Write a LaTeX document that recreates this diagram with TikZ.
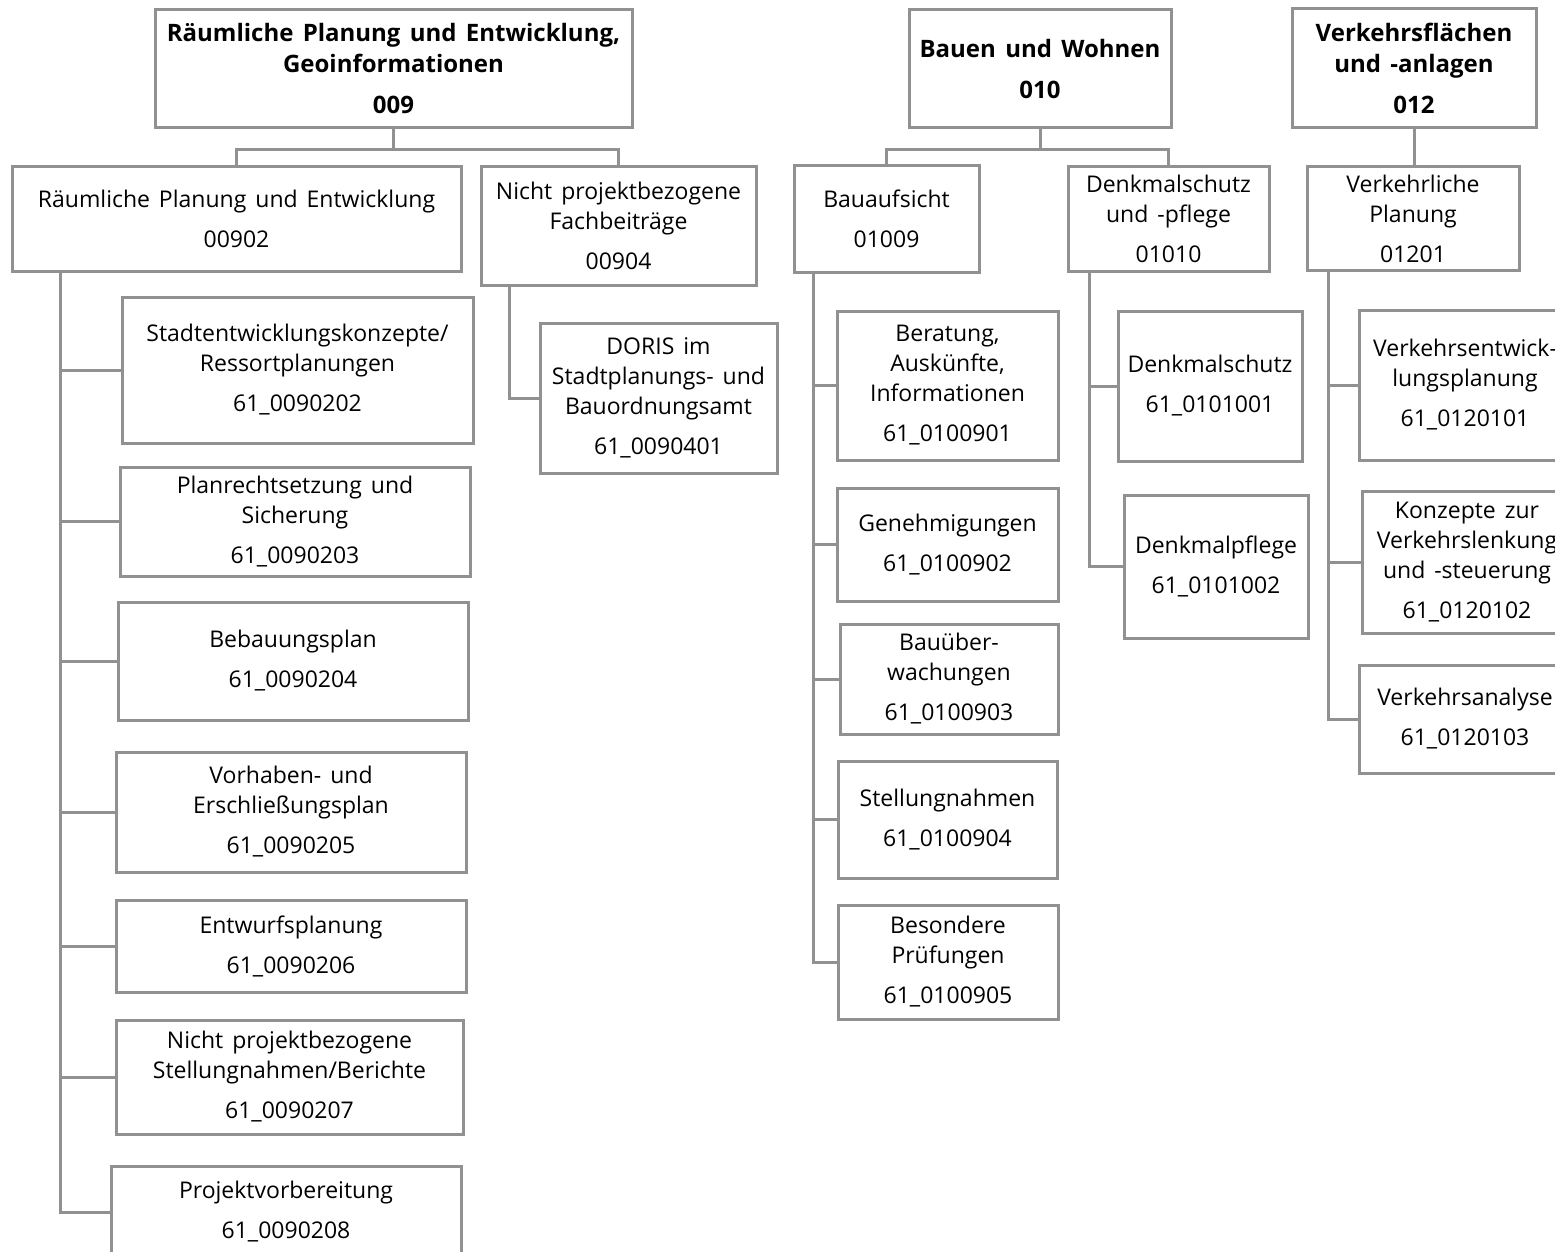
\documentclass[tikz,border=0pt]{standalone}
\usepackage{fontspec}
\setmainfont{Open Sans}[WordSpace=1.5]
\usepackage{xcolor}
\usetikzlibrary{positioning}
\definecolor{framegray}{RGB}{145,145,145}
\newcommand{\codegap}{\\[10pt]}

\begin{document}
\begin{tikzpicture}[x=1pt, y=-1pt,
  box/.style={draw=framegray, line width=3pt, align=center, inner sep=0pt,
              font=\fontsize{23}{30}\selectfont},
  head/.style={box, font=\fontsize{24}{31}\selectfont\bfseries},
  link/.style={draw=framegray, line width=3pt}]
\useasboundingbox (0,0) rectangle (1555,1252);
\clip (0,0) rectangle (1555,1252);
% top level
\node[head, minimum width=477, minimum height=118] (k009) at (393.5,69) {Räumliche Planung und Entwicklung,\\Geoinformationen\codegap 009};
\node[head, minimum width=262, minimum height=118] (k010) at (1040,69) {Bauen und Wohnen\codegap 010};
\node[head, minimum width=244, minimum height=119] (k012) at (1414,68.5) {Verkehrsflächen\\und -anlagen\codegap 012};
% second level
\node[box, minimum width=449, minimum height=104] (b00902) at (236.5,219) {Räumliche Planung und Entwicklung\codegap 00902};
\node[box, minimum width=275, minimum height=118] (b00904) at (618.5,226) {Nicht projektbezogene\\Fachbeiträge\codegap 00904};
\node[box, minimum width=185, minimum height=106] (b01009) at (886.5,219) {Bauaufsicht\codegap 01009};
\node[box, minimum width=201, minimum height=104] (b01010) at (1168.5,219) {Denkmalschutz\\und -pflege\codegap 01010};
\node[box, minimum width=212, minimum height=103] (b01201) at (1413,218.5) {Verkehrliche\\Planung\codegap 01201};
% products 00902
\node[box, minimum width=351, minimum height=146] (c0090202) at (297.5,370) {Stadtentwicklungskonzepte/\\Ressortplanungen\codegap 61\_0090202};
\node[box, minimum width=350, minimum height=109] (c0090203) at (295,521.5) {Planrechtsetzung und\\Sicherung\codegap 61\_0090203};
\node[box, minimum width=350, minimum height=118] (c0090204) at (293,661) {Bebauungsplan\codegap 61\_0090204};
\node[box, minimum width=350, minimum height=120] (c0090205) at (291,812) {Vorhaben- und\\Erschließungsplan\codegap 61\_0090205};
\node[box, minimum width=350, minimum height=92] (c0090206) at (291,946) {Entwurfsplanung\codegap 61\_0090206};
\node[box, minimum width=347, minimum height=114] (c0090207) at (289.5,1077) {Nicht projektbezogene\\Stellungnahmen/Berichte\codegap 61\_0090207};
\node[box, minimum width=350, minimum height=92] (c0090208) at (286,1212) {Projektvorbereitung\codegap 61\_0090208};
% products 00904
\node[box, minimum width=237, minimum height=150] (c0090401) at (658.5,398) {DORIS im\\Stadtplanungs- und\\Bauordnungsamt\codegap 61\_0090401};
% products 01009
\node[box, minimum width=221, minimum height=149] (c0100901) at (947.5,385.5) {Beratung,\\Auskünfte,\\Informationen\codegap 61\_0100901};
\node[box, minimum width=221, minimum height=113] (c0100902) at (947.5,544.5) {Genehmigungen\codegap 61\_0100902};
\node[box, minimum width=218, minimum height=110] (c0100903) at (949,679) {Bauüber-\\wachungen\codegap 61\_0100903};
\node[box, minimum width=219, minimum height=117] (c0100904) at (947.5,819.5) {Stellungnahmen\codegap 61\_0100904};
\node[box, minimum width=220, minimum height=114] (c0100905) at (948,962) {Besondere\\Prüfungen\codegap 61\_0100905};
% products 01010
\node[box, minimum width=184, minimum height=150] (c0101001) at (1210,386) {Denkmalschutz\codegap 61\_0101001};
\node[box, minimum width=184, minimum height=143] (c0101002) at (1216,566.5) {Denkmalpflege\codegap 61\_0101002};
% products 01201
\node[box, minimum width=212, minimum height=150] (c0120101) at (1465,385) {Verkehrsentwick-\\lungsplanung\codegap 61\_0120101};
\node[box, minimum width=210, minimum height=142] (c0120102) at (1467,562) {Konzepte zur\\Verkehrslenkung\\und -steuerung\codegap 61\_0120102};
\node[box, minimum width=212, minimum height=108] (c0120103) at (1465,719) {Verkehrsanalyse\codegap 61\_0120103};
% connectors top to second level
\draw[link] (k009.south) -- ++(0,20) -| (b00902.north);
\draw[link] (k009.south) -- ++(0,20) -| (b00904.north);
\draw[link] (k010.south) -- ++(0,20) -| (b01009.north);
\draw[link] (k010.south) -- ++(0,20) -| (b01010.north);
\draw[link] (k012.south) -- (k012.south |- b01201.north);
% trunks
\coordinate (t00902) at (60,271);
\coordinate (t00904) at (509,285);
\coordinate (t01009) at (813,272);
\coordinate (t01010) at (1089,271);
\coordinate (t01201) at (1328,270);
\draw[link] (t00902) |- (c0090202.west);
\draw[link] (t00902) |- (c0090203.west);
\draw[link] (t00902) |- (c0090204.west);
\draw[link] (t00902) |- (c0090205.west);
\draw[link] (t00902) |- (c0090206.west);
\draw[link] (t00902) |- (c0090207.west);
\draw[link] (t00902) |- (c0090208.west);
\draw[link] (t00904) |- (c0090401.west);
\draw[link] (t01009) |- (c0100901.west);
\draw[link] (t01009) |- (c0100902.west);
\draw[link] (t01009) |- (c0100903.west);
\draw[link] (t01009) |- (c0100904.west);
\draw[link] (t01009) |- (c0100905.west);
\draw[link] (t01010) |- (c0101001.west);
\draw[link] (t01010) |- (c0101002.west);
\draw[link] (t01201) |- (c0120101.west);
\draw[link] (t01201) |- (c0120102.west);
\draw[link] (t01201) |- (c0120103.west);
\end{tikzpicture}
\end{document}
